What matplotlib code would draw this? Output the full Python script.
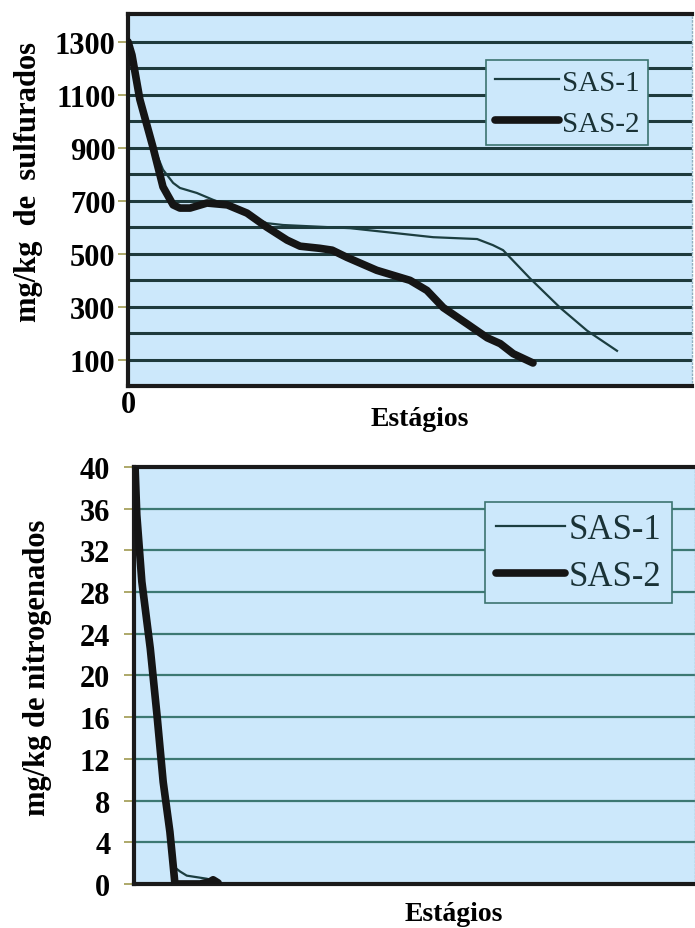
import numpy as np
import matplotlib.pyplot as plt

# valores (x em % da largura do eixo)
sul_x1 = [0, 0.7, 2.1, 3.4, 4.8, 6.2, 8.0, 9.2, 12.2, 15.1, 18.6, 22.2, 24.6, 27.5,
          39.4, 42.4, 54.1, 61.9, 64.7, 66.5, 71.3, 76.6, 81.4, 86.7]
sul_y1 = [1300, 1250, 1082, 960, 890, 817, 767, 748, 729, 703, 676, 638, 615, 608,
          596, 589, 562, 555, 532, 513, 406, 296, 209, 133]
sul_x2 = [0, 0.7, 2.1, 4.4, 6.2, 8.0, 9.2, 11.0, 14.0, 17.6, 21.1, 24.6, 28.2, 30.5,
          34.0, 36.2, 38.8, 44.1, 50.0, 53.0, 55.9, 60.1, 63.7, 66.0, 68.3, 71.8]
sul_y2 = [1300, 1250, 1082, 904, 752, 684, 672, 672, 691, 684, 653, 600, 551, 528,
          520, 513, 486, 437, 399, 361, 296, 235, 182, 160, 122, 87]

nit_x1 = [0.2, 0.5, 1.4, 2.9, 4.1, 5.2, 6.4, 7.0, 8.2, 9.4, 13.0, 14.8]
nit_y1 = [39.9, 35.4, 29.0, 22.6, 16.2, 9.8, 5.0, 1.7, 1.2, 0.8, 0.5, 0.2]
nit_x2 = [0.2, 0.5, 1.4, 2.9, 4.1, 5.2, 6.4, 7.0, 7.3, 11.8, 13.5, 14.1, 15.0]
nit_y2 = [39.9, 35.4, 29.0, 22.6, 16.2, 9.8, 5.0, 1.7, 0.0, 0.0, 0.2, 0.4, 0.1]

sul_ticks = [100, 300, 500, 700, 900, 1100, 1300]
sul_grid = list(range(100, 1400, 100))
nit_ticks = [0, 4, 8, 12, 16, 20, 24, 28, 32, 36, 40]
nit_grid = list(range(4, 40, 4))

bg = '#cce8fb'
serif = 'Liberation Serif'
plt.rcParams['font.family'] = serif

fig = plt.figure(figsize=(6.95, 9.29), dpi=100)
ax1 = fig.add_axes([0.1842, 0.5834, 0.8115, 0.4005])
ax2 = fig.add_axes([0.1928, 0.0474, 0.8072, 0.4488])

def style(ax, pad):
    ax.set_facecolor(bg)
    ax.spines['left'].set_linewidth(3)
    ax.spines['top'].set_linewidth(3)
    ax.spines['bottom'].set_linewidth(3)
    ax.spines['right'].set_linewidth(1)
    ax.spines['right'].set_color('#8fb0c0')
    ax.spines['right'].set_linestyle(':')
    for s in ['left', 'top', 'bottom']:
        ax.spines[s].set_color('#1a1a1a')
    ax.tick_params(axis='y', length=7, width=1.2, color='#a09a50', labelsize=22, pad=pad)
    ax.tick_params(axis='x', length=0, labelsize=22)
    for t in ax.get_yticklabels() + ax.get_xticklabels():
        t.set_fontweight('bold')

# grafico de sulfurados
for g in sul_grid:
    ax1.axhline(g, color='#1e3a3c', lw=2.2, zorder=1)
ax1.plot(sul_x1, sul_y1, color='#1c3e40', lw=1.6, label='SAS-1', zorder=3)
ax1.plot(sul_x2, sul_y2, color='#151515', lw=5.5, label='SAS-2', zorder=3,
         solid_capstyle='round', solid_joinstyle='round')
ax1.set_xlim(0, 100)
ax1.set_ylim(0, 1405)
ax1.set_yticks(sul_ticks)
ax1.set_xticks([0])
ax1.set_xticklabels(['0'])
style(ax1, 2)
ax1.tick_params(axis='x', pad=3)
ax1.set_ylabel('mg/kg  de  sulfurados', fontsize=22, fontweight='bold')
ax1.yaxis.set_label_coords(-0.151, 0.55)
ax1.set_xlabel('Estágios', fontsize=20, fontweight='bold')
ax1.xaxis.set_label_coords(0.518, -0.055)
leg1 = ax1.legend(loc='upper left', bbox_to_anchor=(0.635, 0.875), fontsize=21,
                  handlelength=2.2, handletextpad=0.1, labelspacing=0.5,
                  borderpad=0.3, borderaxespad=0, frameon=True, fancybox=False)
leg1.get_frame().set_facecolor(bg)
leg1.get_frame().set_edgecolor('#3d7470')
leg1.get_frame().set_linewidth(1.2)
leg1.get_frame().set_alpha(1)
for t in leg1.get_texts():
    t.set_color('#1a3236')

# grafico de nitrogenados
for g in nit_grid:
    ax2.axhline(g, color='#3c7872', lw=1.6, zorder=1)
ax2.plot(nit_x1, nit_y1, color='#1c3e40', lw=1.6, label='SAS-1', zorder=3)
ax2.plot(nit_x2, nit_y2, color='#151515', lw=5.5, label='SAS-2', zorder=3,
         solid_capstyle='round', solid_joinstyle='round')
ax2.set_xlim(0, 100)
ax2.set_ylim(0, 40)
ax2.set_yticks(nit_ticks)
ax2.set_xticks([])
style(ax2, 10)
ax2.set_ylabel('mg/kg de nitrogenados', fontsize=22, fontweight='bold')
ax2.yaxis.set_label_coords(-0.146, 0.52)
ax2.set_xlabel('Estágios', fontsize=20, fontweight='bold')
ax2.xaxis.set_label_coords(0.57, -0.04)
leg2 = ax2.legend(loc='upper left', bbox_to_anchor=(0.626, 0.915), fontsize=25,
                  handlelength=2.0, handletextpad=0.1, labelspacing=0.4,
                  borderpad=0.3, borderaxespad=0, frameon=True, fancybox=False)
leg2.get_frame().set_facecolor(bg)
leg2.get_frame().set_edgecolor('#3d7470')
leg2.get_frame().set_linewidth(1.2)
leg2.get_frame().set_alpha(1)
for t in leg2.get_texts():
    t.set_color('#1a3236')

fig.savefig('out.png', dpi=100)
